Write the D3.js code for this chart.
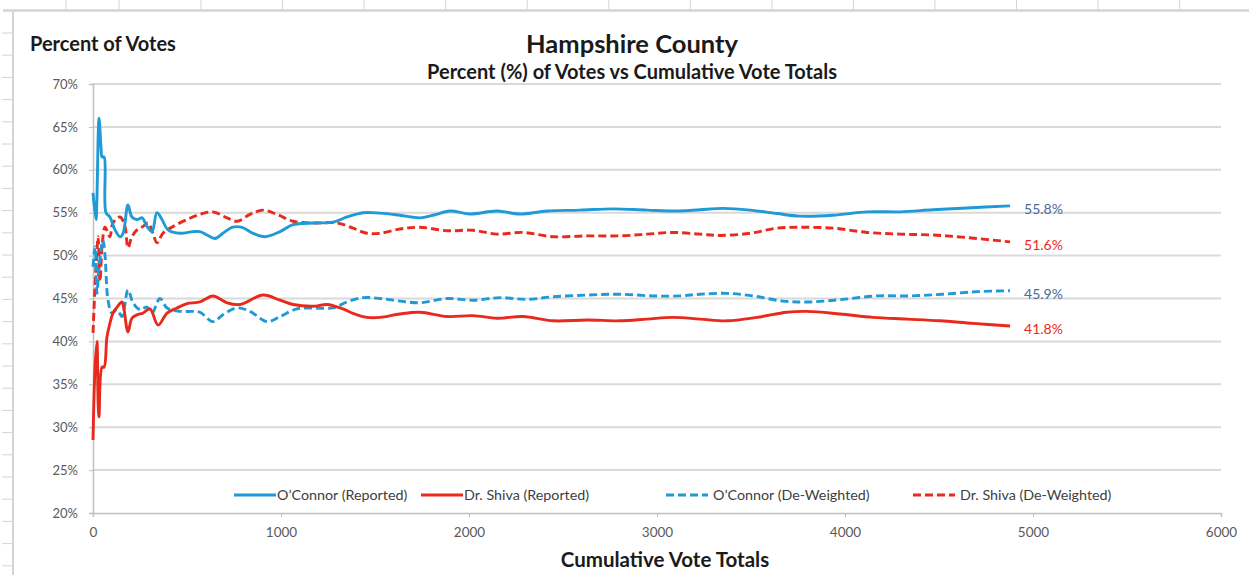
<!DOCTYPE html>
<html>
<head>
<meta charset="utf-8">
<script src="https://cdn.jsdelivr.net/npm/d3@7"></script>
<style>
  html, body { margin: 0; padding: 0; background: #ffffff; }
  svg { display: block; font-family: Lato, "Open Sans", sans-serif; }
</style>
</head>
<body>
<svg id="chart" width="1249" height="575"></svg>
<script>
// ---------------- DATA ----------------
const chartTitle = "Hampshire County";
const chartSubtitle = "Percent (%) of Votes vs Cumulative Vote Totals";
const yAxisTitle = "Percent of Votes";
const xAxisTitle = "Cumulative Vote Totals";

const xTicks = [0, 1000, 2000, 3000, 4000, 5000, 6000];
const yTicks = [20, 25, 30, 35, 40, 45, 50, 55, 60, 65, 70];

const seriesNames = ["O\u2019Connor (Reported)", "Dr. Shiva (Reported)", "O\u2019Connor (De-Weighted)", "Dr. Shiva (De-Weighted)"];
const endLabels = ["55.8%", "41.8%", "45.9%", "51.6%"];

// [cumulative votes, percent]
const oconnorReported = [
  [0,57.3],[16,54.2],[21,56.8],[32,66.0],[43,62.5],[48,61.5],[59,61.5],[69,55.0],[90,54.5],[117,53.0],
  [144,52.2],[160,52.6],[186,55.9],[207,54.5],[234,54.2],[261,54.4],[287,53.4],[314,52.8],[340,55.0],
  [367,54.2],[399,53.0],[463,52.6],[532,52.8],[569,52.8],[606,52.4],[649,52.0],[691,52.6],[739,53.3],
  [793,53.3],[851,52.6],[915,52.2],[995,52.8],[1064,53.6],[1170,53.8],[1277,53.9],[1351,54.5],[1436,55.0],
  [1527,54.95],[1633,54.7],[1739,54.4],[1809,54.7],[1899,55.2],[2005,54.85],[2149,55.2],[2271,54.85],
  [2415,55.2],[2590,55.3],[2766,55.45],[2947,55.3],[3122,55.2],[3229,55.35],[3351,55.5],[3495,55.3],
  [3638,54.9],[3761,54.6],[3936,54.7],[4117,55.1],[4293,55.1],[4468,55.35],[4649,55.55],[4878,55.8]
];
const shivaReported = [
  [0,28.5],[11,37.0],[21,40.0],[27,33.0],[32,31.2],[48,37.0],[59,37.0],[74,40.5],[90,42.1],[106,43.3],
  [128,44.0],[154,44.6],[165,43.7],[186,41.1],[207,42.7],[234,43.1],[266,43.3],[303,43.8],[346,41.9],
  [394,43.3],[447,43.9],[500,44.4],[569,44.6],[638,45.3],[713,44.5],[782,44.3],[904,45.4],[995,44.8],
  [1064,44.3],[1170,44.1],[1245,44.3],[1314,43.9],[1404,43.1],[1457,42.8],[1527,42.8],[1633,43.2],
  [1739,43.4],[1883,42.9],[2021,43.0],[2149,42.7],[2287,42.9],[2447,42.4],[2628,42.5],[2803,42.4],
  [2947,42.6],[3085,42.8],[3229,42.6],[3372,42.4],[3532,42.8],[3691,43.4],[3798,43.5],[3973,43.2],
  [4149,42.8],[4330,42.6],[4505,42.4],[4681,42.1],[4878,41.8]
];
const oconnorDeWeighted = [
  [0,48.7],[11,51.0],[21,45.6],[32,48.7],[53,51.8],[64,50.0],[80,44.8],[101,43.3],[128,43.7],[154,42.9],
  [186,46.0],[213,44.5],[250,43.7],[287,44.0],[314,43.3],[356,45.0],[394,43.9],[463,43.5],[532,43.5],
  [569,43.4],[638,42.3],[691,43.1],[766,43.9],[835,43.5],[926,42.3],[995,42.9],[1085,43.8],[1170,43.9],
  [1277,43.9],[1351,44.6],[1436,45.1],[1527,45.0],[1633,44.7],[1739,44.5],[1883,45.0],[2021,44.8],
  [2165,45.1],[2309,44.9],[2447,45.2],[2628,45.4],[2803,45.5],[2979,45.3],[3122,45.3],[3229,45.5],
  [3372,45.6],[3511,45.3],[3670,44.7],[3814,44.6],[3989,44.9],[4170,45.3],[4346,45.3],[4521,45.5],
  [4702,45.8],[4878,45.9]
];
const shivaDeWeighted = [
  [0,41.0],[11,46.5],[21,50.5],[27,52.2],[37,47.0],[48,51.0],[64,53.3],[90,52.2],[106,53.8],[144,54.5],
  [170,53.4],[186,50.9],[207,52.2],[234,53.0],[266,53.4],[293,53.8],[319,52.6],[340,51.5],[372,52.6],
  [426,53.4],[500,54.2],[569,54.8],[638,55.1],[713,54.4],[766,54.0],[835,54.8],[904,55.3],[979,54.8],
  [1064,54.0],[1170,53.8],[1298,53.8],[1383,53.2],[1457,52.6],[1527,52.6],[1633,53.1],[1739,53.3],
  [1883,52.9],[2021,52.95],[2149,52.5],[2287,52.7],[2447,52.2],[2628,52.3],[2803,52.3],[2947,52.5],
  [3085,52.7],[3229,52.5],[3335,52.35],[3495,52.6],[3638,53.2],[3761,53.3],[3936,53.2],[4117,52.7],
  [4293,52.5],[4468,52.4],[4649,52.1],[4878,51.6]
];

// ---------------- LAYOUT / STYLE ----------------
const BLUE = "#1f9ad6", RED = "#e8291c";
const seriesStyle = [
  { data: oconnorReported,   color: BLUE, dash: null,  label: "#4c6a9c" },
  { data: shivaReported,     color: RED,  dash: null,  label: RED },
  { data: oconnorDeWeighted, color: BLUE, dash: "8,4", label: "#4c6a9c" },
  { data: shivaDeWeighted,   color: RED,  dash: "8,4", label: RED }
];

const svg = d3.select("#chart");
const W = 1249, H = 575;
const plot = { left: 93, right: 1221, top: 84, bottom: 513 };

// Spreadsheet backdrop
const sheet = svg.append("g").attr("stroke", "#d4d4d4");
const colLines = [66, 119].concat(d3.range(0, 13).map(i => 201 + i * 81.55));
colLines.forEach(xx => {
  sheet.append("line").attr("x1", xx).attr("x2", xx).attr("y1", 0).attr("y2", 10).attr("stroke-width", 1);
});
sheet.append("line").attr("x1", 3).attr("x2", W).attr("y1", 10.5).attr("y2", 10.5).attr("stroke-width", 2.5);
sheet.append("line").attr("x1", 13).attr("x2", 13).attr("y1", 10).attr("y2", H).attr("stroke-width", 2);
d3.range(33, H, 22.2).forEach(yy => {
  sheet.append("line").attr("x1", 2).attr("x2", 12).attr("y1", yy).attr("y2", yy).attr("stroke-width", 1);
});

const x = d3.scaleLinear().domain([0, 6000]).range([plot.left, plot.right]);
const y = d3.scaleLinear().domain([20, 70]).range([plot.bottom, plot.top]);

// Gridlines
svg.append("g").selectAll("line").data(yTicks.filter(t => t > 20)).join("line")
  .attr("x1", plot.left).attr("x2", plot.right)
  .attr("y1", d => y(d)).attr("y2", d => y(d))
  .attr("stroke", "#d9d9d9").attr("stroke-width", 2);

// Y axis
const yAxis = d3.axisLeft(y).tickValues(yTicks).tickFormat(d => d + "%").tickSize(4).tickPadding(11);
const gy = svg.append("g").attr("transform", `translate(${plot.left},0)`).call(yAxis);
gy.select(".domain").attr("stroke", "#bfbfbf").attr("stroke-width", 1.5);
gy.selectAll(".tick line").attr("stroke", "#bfbfbf");
gy.selectAll(".tick text").attr("font-size", 13).attr("fill", "#595959").attr("font-family", "Lato, sans-serif");

// X axis
const xAxis = d3.axisBottom(x).tickValues(xTicks).tickFormat(d3.format("d")).tickSize(4).tickPadding(10);
const gx = svg.append("g").attr("transform", `translate(0,${plot.bottom})`).call(xAxis);
gx.select(".domain").attr("stroke", "#bfbfbf").attr("stroke-width", 1.5);
gx.selectAll(".tick line").attr("stroke", "#bfbfbf");
gx.selectAll(".tick text").attr("font-size", 13.5).attr("fill", "#595959").attr("font-family", "Lato, sans-serif");

// Lines
const line = d3.line().x(d => x(d[0])).y(d => y(d[1])).curve(d3.curveCatmullRom.alpha(0.5));
const plotG = svg.append("g");
[3, 2, 1, 0].forEach(i => {
  const s = seriesStyle[i];
  plotG.append("path").datum(s.data)
    .attr("d", line)
    .attr("fill", "none")
    .attr("stroke", s.color)
    .attr("stroke-width", 2.9)
    .attr("stroke-linejoin", "round")
    .attr("stroke-dasharray", s.dash);
});

// End labels
seriesStyle.forEach((s, i) => {
  const last = s.data[s.data.length - 1];
  svg.append("text")
    .attr("x", x(last[0]) + 14)
    .attr("y", y(last[1]) + 8)
    .attr("font-size", 14)
    .attr("fill", s.label)
    .text(endLabels[i]);
});

// Titles
svg.append("text").attr("x", 632).attr("y", 53).attr("text-anchor", "middle")
  .attr("font-size", 25.5).attr("font-weight", "bold").attr("fill", "#1a1a1a").text(chartTitle);
svg.append("text").attr("x", 632).attr("y", 79).attr("text-anchor", "middle")
  .attr("font-size", 20).attr("font-weight", "bold").attr("fill", "#1a1a1a").text(chartSubtitle);
svg.append("text").attr("x", 30).attr("y", 51)
  .attr("font-size", 20).attr("font-weight", "bold").attr("fill", "#1a1a1a").text(yAxisTitle);
svg.append("text").attr("x", 665).attr("y", 567).attr("text-anchor", "middle")
  .attr("font-size", 20.5).attr("font-weight", "bold").attr("fill", "#1a1a1a").text(xAxisTitle);

// Legend
const legendX = [234, 421, 666, 913];
const legendTextGap = [1, 1, 5, 5];
const legendY = 495;
[0, 1, 2, 3].forEach((i, k) => {
  const s = seriesStyle[i];
  const g = svg.append("g").attr("transform", `translate(${legendX[k]},${legendY})`);
  g.append("line").attr("x1", 0).attr("x2", 42).attr("y1", 0).attr("y2", 0)
    .attr("stroke", s.color).attr("stroke-width", 2.9).attr("stroke-dasharray", s.dash);
  g.append("text").attr("x", 42 + legendTextGap[k]).attr("y", 5).attr("font-size", 14.3)
    .attr("fill", "#404040").text(seriesNames[i]);
});
</script>
</body>
</html>
